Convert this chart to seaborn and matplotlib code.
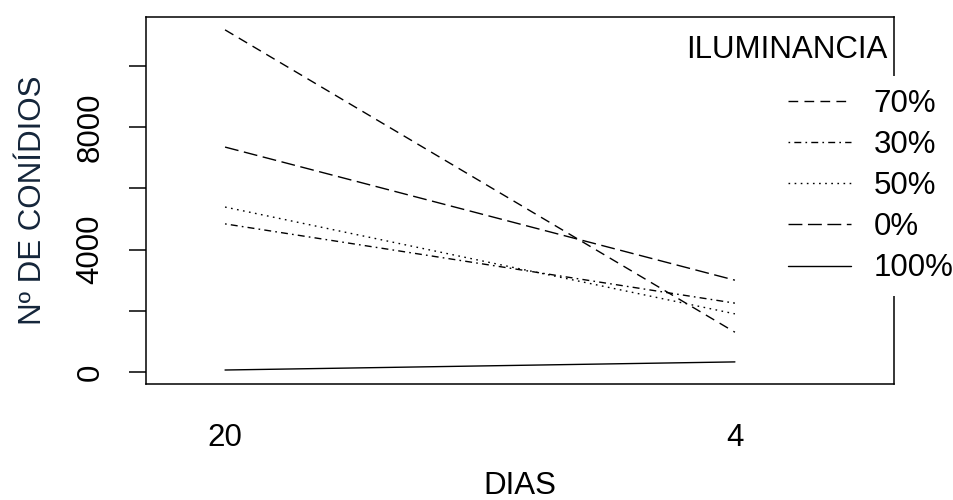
import matplotlib
matplotlib.use("Agg")
import matplotlib.pyplot as plt
import seaborn as sns
import pandas as pd
from matplotlib.lines import Line2D

# ---- data ----
dias = ["20", "4"]
series_names = ["70%", "30%", "50%", "0%", "100%"]
val_70 = [11180, 1300]
val_30 = [4840, 2250]
val_50 = [5390, 1900]
val_0 = [7350, 3000]
val_100 = [65, 330]
y_ticks = [0, 2000, 4000, 6000, 8000, 10000]
y_ticklabels = ["0", "", "4000", "", "8000", ""]

values = [val_70, val_30, val_50, val_0, val_100]
rows = []
for name, vals in zip(series_names, values):
    for d, v in zip(dias, vals):
        rows.append({"DIAS": d, "N": v, "ILUMINANCIA": name})
df = pd.DataFrame(rows)

sns.set_style("white")
plt.rcParams["font.family"] = ["Liberation Sans", "DejaVu Sans"]
plt.rcParams["text.color"] = "black"
plt.rcParams["axes.labelcolor"] = "black"
plt.rcParams["xtick.color"] = "black"
plt.rcParams["ytick.color"] = "black"

FS = 22.5
fig = plt.figure(figsize=(9.54, 5.0), dpi=100)
ax = fig.add_axes([146/954, 1-384/500, (894-146)/954, (384-17)/500])

dash_map = {"70%": (7, 4.5), "30%": (1.2, 3, 5, 3), "50%": (1.2, 3.2),
            "0%": (10, 4), "100%": ""}
LW = 1.0
sns.lineplot(data=df, x="DIAS", y="N", style="ILUMINANCIA",
             style_order=series_names, dashes=dash_map, color="black",
             linewidth=LW, sort=False, legend=False, ax=ax)

ax.set_xlim(-0.155, 1.312)
ax.set_ylim(-392, 11600)
ax.set_yticks(y_ticks)
ax.set_yticklabels(y_ticklabels, rotation=90, va="center", fontsize=FS)
ax.tick_params(axis="y", length=12, width=1.1, pad=17, left=True)
ax.tick_params(axis="x", length=0, pad=28, labelsize=FS)
for s in ax.spines.values():
    s.set_color("black")
    s.set_linewidth(1.1)
ax.set_xlabel("DIAS", fontsize=FS, labelpad=13)
ax.set_ylabel("Nº DE CONÍDIOS", fontsize=FS, labelpad=20, color="#14253a")

# legend
handles = []
for n in series_names:
    h = Line2D([0], [0], color="black", linewidth=LW, linestyle="-")
    if dash_map[n]:
        h.set_dashes(dash_map[n])
    handles.append(h)
leg = ax.legend(handles, series_names, loc="upper left",
                bbox_to_anchor=(776/954, 1-76/500),
                bbox_transform=fig.transFigure,
                fontsize=FS, frameon=True, framealpha=1, facecolor="white",
                edgecolor="none", handlelength=2.0, handletextpad=0.72,
                labelspacing=0.36, borderpad=0.4, borderaxespad=0)
leg.get_frame().set_linewidth(0)
fig.text(787/954, 1-50/500, "ILUMINANCIA", ha="center", va="center",
         fontsize=FS)

fig.savefig("out.png", dpi=100)
